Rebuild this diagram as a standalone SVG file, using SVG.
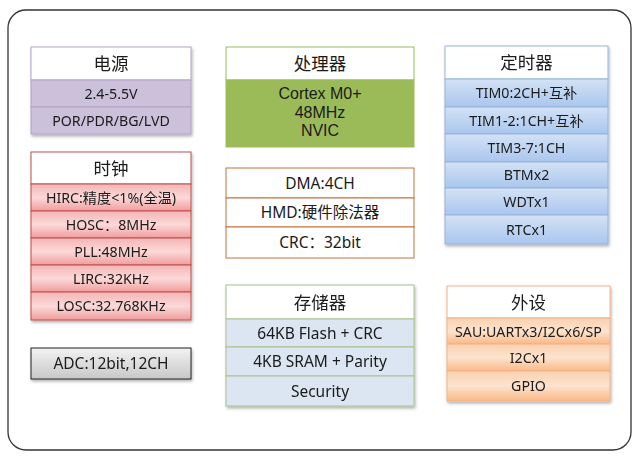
<svg xmlns="http://www.w3.org/2000/svg" width="642" height="458" viewBox="0 0 642 458">
<defs>
<style>
text{font-family:"Noto Sans","Noto Sans CJK SC",sans-serif;fill:#1a1a1a;text-anchor:middle}
.t{font-size:17.5px}
.r{font-size:14.2px}
.m{font-size:15.5px}
.c{font-family:"Liberation Sans","Noto Sans CJK SC",sans-serif;font-size:16px}
.pw{fill:#CCC1DA;stroke:#B3A2C7;stroke-width:1}
.pwt{fill:#fff;stroke:#B3A2C7;stroke-width:1}
.ck{fill:url(#gRed);stroke:#C0504D;stroke-width:1}
.ckt{fill:#fff;stroke:#C0504D;stroke-width:1}
.cpu{fill:#9BBB59;stroke:#9BBB59;stroke-width:1}
.cput{fill:#fff;stroke:#9BBB59;stroke-width:1}
.dm{fill:#fff;stroke:#C0703C;stroke-width:1}
.st{fill:#DCE6F2;stroke:#A8C08C;stroke-width:1}
.stt{fill:#fff;stroke:#A8C08C;stroke-width:1}
.tm{fill:url(#gBlue);stroke:#95B3D7;stroke-width:1}
.tmt{fill:#fff;stroke:#95B3D7;stroke-width:1}
.pe{fill:url(#gOrg);stroke:#F4B183;stroke-width:1}
.pet{fill:#fff;stroke:#F4B183;stroke-width:1}
</style>
<linearGradient id="gRed" x1="0" y1="0" x2="0" y2="1">
<stop offset="0" stop-color="#F5B4B4"/><stop offset="0.5" stop-color="#FBD9D9"/><stop offset="1" stop-color="#F29C9C"/>
</linearGradient>
<linearGradient id="gBlue" x1="0" y1="0" x2="0" y2="1">
<stop offset="0" stop-color="#D4E2F5"/><stop offset="1" stop-color="#A9C6EE"/>
</linearGradient>
<linearGradient id="gOrg" x1="0" y1="0" x2="0" y2="1">
<stop offset="0" stop-color="#FAD1B0"/><stop offset="0.5" stop-color="#FDE3CF"/><stop offset="1" stop-color="#F9B987"/>
</linearGradient>
<linearGradient id="gGray" x1="0" y1="0" x2="0" y2="1">
<stop offset="0" stop-color="#F2F2F2"/><stop offset="1" stop-color="#C8C8C8"/>
</linearGradient>
<filter id="sh" x="-10%" y="-10%" width="120%" height="130%">
<feDropShadow dx="1" dy="2" stdDeviation="1.5" flood-color="#000" flood-opacity="0.3"/>
</filter>
</defs>
<rect x="0" y="0" width="642" height="458" fill="#fff"/>
<rect x="8" y="10" width="623" height="440" rx="18" fill="#fff" stroke="#333" stroke-width="1.3"/>

<g id="power" filter="url(#sh)">
<rect class="pwt" x="31" y="47" width="160" height="33"/>
<rect class="pw" x="31" y="80" width="160" height="27"/>
<rect class="pw" x="31" y="107" width="160" height="27"/>
<text class="t" x="111" y="70">电源</text>
<text class="r" x="111" y="98.5">2.4-5.5V</text>
<text class="r" x="111" y="125.5">POR/PDR/BG/LVD</text>
</g>

<g id="clock" filter="url(#sh)">
<rect class="ckt" x="31" y="152" width="160" height="32"/>
<rect class="ck" x="31" y="184" width="160" height="27"/>
<rect class="ck" x="31" y="211" width="160" height="27"/>
<rect class="ck" x="31" y="238" width="160" height="27"/>
<rect class="ck" x="31" y="265" width="160" height="27"/>
<rect class="ck" x="31" y="292" width="160" height="28"/>
<text class="t" x="111" y="174.5">时钟</text>
<text class="r" x="111" y="202.5">HIRC:精度&lt;1%(全温)</text>
<text class="r" x="111" y="229.5">HOSC：8MHz</text>
<text class="r" x="111" y="256.5">PLL:48MHz</text>
<text class="r" x="111" y="283.5">LIRC:32KHz</text>
<text class="r" x="111" y="311">LOSC:32.768KHz</text>
</g>

<g id="adc" filter="url(#sh)">
<rect x="31" y="348" width="160" height="31" fill="url(#gGray)" stroke="#222" stroke-width="1"/>
<text class="m" x="111" y="369">ADC:12bit,12CH</text>
</g>

<g id="cpu">
<rect class="cput" x="226" y="47" width="188" height="33"/>
<rect class="cpu" x="226" y="80" width="188" height="67"/>
<text class="t" x="320" y="70">处理器</text>
<text class="c" x="320" y="99">Cortex M0+</text>
<text class="c" x="320" y="117.5">48MHz</text>
<text class="c" x="320" y="136">NVIC</text>
</g>

<g id="dma">
<rect class="dm" x="226" y="168" width="188" height="30"/>
<rect class="dm" x="226" y="198" width="188" height="29"/>
<rect class="dm" x="226" y="227" width="188" height="31"/>
<text class="m" x="320" y="188.5">DMA:4CH</text>
<text class="m" x="320" y="217.5">HMD:硬件除法器</text>
<text class="m" x="320" y="247.5">CRC：32bit</text>
</g>

<g id="memory" filter="url(#sh)">
<rect class="stt" x="226" y="285" width="188" height="34"/>
<rect class="st" x="226" y="319" width="188" height="28"/>
<rect class="st" x="226" y="347" width="188" height="29"/>
<rect class="st" x="226" y="376" width="188" height="30"/>
<text class="t" x="320" y="308.5">存储器</text>
<text class="m" x="320" y="338.5">64KB Flash + CRC</text>
<text class="m" x="320" y="367">4KB SRAM + Parity</text>
<text class="m" x="320" y="396.5">Security</text>
</g>

<g id="timer" filter="url(#sh)">
<rect class="tmt" x="445" y="46" width="163" height="33"/>
<rect class="tm" x="445" y="79" width="163" height="28"/>
<rect class="tm" x="445" y="107" width="163" height="27"/>
<rect class="tm" x="445" y="134" width="163" height="28"/>
<rect class="tm" x="445" y="162" width="163" height="26"/>
<rect class="tm" x="445" y="188" width="163" height="27"/>
<rect class="tm" x="445" y="215" width="163" height="29"/>
<text class="t" x="526.5" y="69">定时器</text>
<text class="r" x="526.5" y="98">TIM0:2CH+互补</text>
<text class="r" x="526.5" y="125.5">TIM1-2:1CH+互补</text>
<text class="r" x="526.5" y="153">TIM3-7:1CH</text>
<text class="r" x="526.5" y="180">BTMx2</text>
<text class="r" x="526.5" y="206.5">WDTx1</text>
<text class="r" x="526.5" y="234.5">RTCx1</text>
</g>

<g id="peripheral" filter="url(#sh)">
<rect class="pet" x="447" y="286" width="163" height="32"/>
<rect class="pe" x="447" y="318" width="163" height="26"/>
<text class="t" x="528.5" y="308.5">外设</text>
<text class="r" x="528.5" y="336.5">SAU:UARTx3/I2Cx6/SP</text>
<rect class="pe" x="447" y="344" width="163" height="27"/>
<rect class="pe" x="447" y="371" width="163" height="30"/>
<text class="r" x="528.5" y="362.5">I2Cx1</text>
<text class="r" x="528.5" y="391">GPIO</text>
</g>
</svg>
